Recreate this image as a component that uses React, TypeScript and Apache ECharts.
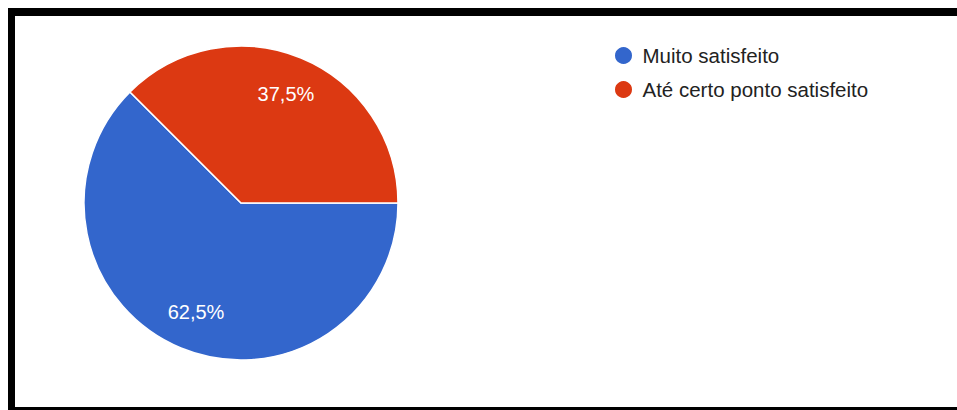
import React, { useEffect, useRef } from "react";
import * as echarts from "echarts";

const categories = ["Muito satisfeito", "Até certo ponto satisfeito"];
const values = [62.5, 37.5];
const colors = ["#3366cc", "#dc3912"];

export default function App() {
  const ref = useRef<HTMLDivElement>(null);

  useEffect(() => {
    document.body.style.margin = "0";
    if (!ref.current) return;
    const chart = echarts.init(ref.current, undefined, { renderer: "svg" });
    const data = categories.map((name, i) => ({
      name,
      value: values[i],
      itemStyle: { color: colors[i] },
    }));
    const fmt = (p: any) => `${Number(p.value).toFixed(1).replace(".", ",")}%`;
    chart.setOption({
      animation: false,
      backgroundColor: "#ffffff",
      legend: {
        orient: "vertical",
        left: 613,
        top: 45,
        padding: 0,
        icon: "circle",
        itemWidth: 28,
        itemHeight: 19,
        itemGap: 13,
        data: categories,
        selectedMode: false,
        textStyle: {
          fontFamily: "Liberation Sans, Arial, sans-serif",
          fontSize: 20.5,
          lineHeight: 20,
          color: "#222222",
        },
      },
      graphic: [
        { type: "rect", shape: { x: 8, y: 8, width: 949, height: 8 }, style: { fill: "#000" } },
        { type: "rect", shape: { x: 8, y: 8, width: 7, height: 402 }, style: { fill: "#000" } },
        { type: "rect", shape: { x: 8, y: 407, width: 949, height: 3 }, style: { fill: "#000" } },
      ],
      series: [
        {
          type: "pie",
          center: [241, 203],
          radius: 157,
          startAngle: 135,
          clockwise: false,
          avoidLabelOverlap: false,
          silent: true,
          itemStyle: { borderColor: "#ffffff", borderWidth: 1.5 },
          label: { show: false },
          labelLine: { show: false },
          data,
        },
        {
          type: "pie",
          center: [241, 203],
          radius: [72, 157],
          startAngle: 135,
          clockwise: false,
          avoidLabelOverlap: false,
          silent: true,
          itemStyle: { color: "transparent", borderWidth: 0 },
          label: {
            show: true,
            position: "inside",
            formatter: fmt,
            color: "#ffffff",
            fontFamily: "Liberation Sans, Arial, sans-serif",
            fontSize: 20,
          },
          labelLine: { show: false },
          data: categories.map((name, i) => ({ name, value: values[i], itemStyle: { color: "transparent" } })),
        },
      ],
    });
    return () => chart.dispose();
  }, []);

  return <div ref={ref} style={{ width: 957, height: 410 }} />;
}
